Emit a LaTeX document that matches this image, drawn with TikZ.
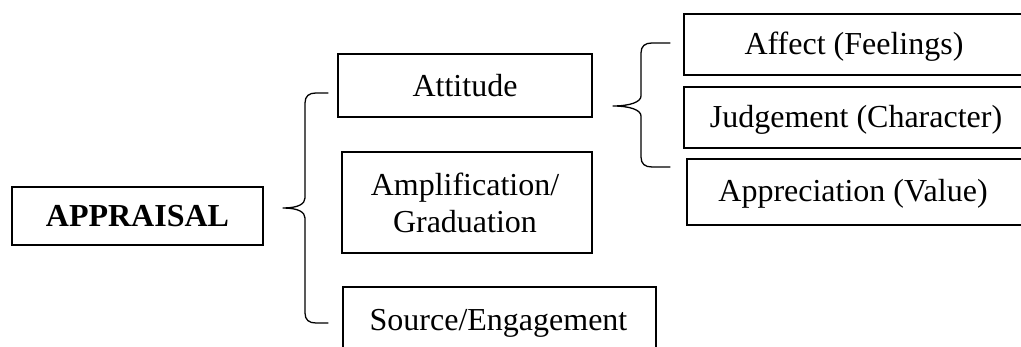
\documentclass[tikz,border=0pt]{standalone}
\usepackage{fontspec}
\setmainfont{Liberation Serif}
\begin{document}
\begin{tikzpicture}[x=1pt,y=-1pt,
  box/.style={draw, line width=1.8pt, inner sep=0pt},
  txt/.style={font=\fontsize{32}{37}\selectfont, inner sep=0pt, align=center, text height=21.2pt, text depth=0pt},
  mtxt/.style={font=\fontsize{32}{37}\selectfont, inner sep=0pt, align=center},
  bracepath/.style={line width=1.3pt, line join=round, line cap=round}]
\useasboundingbox (0,0) rectangle (1021,347);
\clip (0,0) rectangle (1021,347);

% boxes
\node[box, minimum width=251pt, minimum height=58pt] (appbox) at (137.5,216) {};
\node[box, minimum width=254pt, minimum height=63pt] (attbox) at (465,85.5) {};
\node[box, minimum width=250pt, minimum height=101pt] (ampbox) at (467,202.5) {};
\node[box, anchor=north west, minimum width=313pt, minimum height=80pt] (srcbox) at (342,286) {};
\node[box, anchor=north west, minimum width=360pt, minimum height=61pt] (affbox) at (683,13) {};
\node[box, anchor=north west, minimum width=360pt, minimum height=61pt] (judbox) at (683,86) {};
\node[box, anchor=north west, minimum width=360pt, minimum height=66pt] (appvbox) at (686,158) {};

% texts
\node[txt, font=\fontsize{32}{37}\selectfont\bfseries] (apptxt) at (137.5,216) {APPRAISAL};
\node[txt] (atttxt) at (465,85.5) {Attitude};
\node[mtxt] (amptxt) at (465,202.5) {Amplification/\\Graduation};
\node[txt] (srctxt) at (498.5,320) {Source/Engagement};
\node[txt] (afftxt) at (854,43.5) {Affect (Feelings)};
\node[txt] (judtxt) at (856,116.5) {Judgement (Character)};
\node[txt] (appvtxt) at (853,191) {Appreciation (Value)};

% big brace
\coordinate (bigtop) at (328,93);
\coordinate (bigtip) at (283,208);
\coordinate (bigbot) at (328,323);
\draw[bracepath] (bigtop) -- (316,93) .. controls (309,93) and (305,96) .. (305,103)
  -- (305,198) .. controls (305,204) and (298,208) .. (bigtip)
  .. controls (298,208) and (305,212) .. (305,218)
  -- (305,313) .. controls (305,320) and (309,323) .. (316,323) -- (bigbot);

% small brace
\coordinate (smtop) at (670,43);
\coordinate (smtip) at (613,106);
\coordinate (smbot) at (670,167);
\draw[bracepath] (smtop) -- (652,43) .. controls (645,43) and (641,46) .. (641,53)
  -- (641,96) .. controls (641,102) and (630,106) .. (smtip)
  .. controls (630,106) and (641,110) .. (641,116)
  -- (641,157) .. controls (641,164) and (645,167) .. (652,167) -- (smbot);
\end{tikzpicture}
\end{document}
